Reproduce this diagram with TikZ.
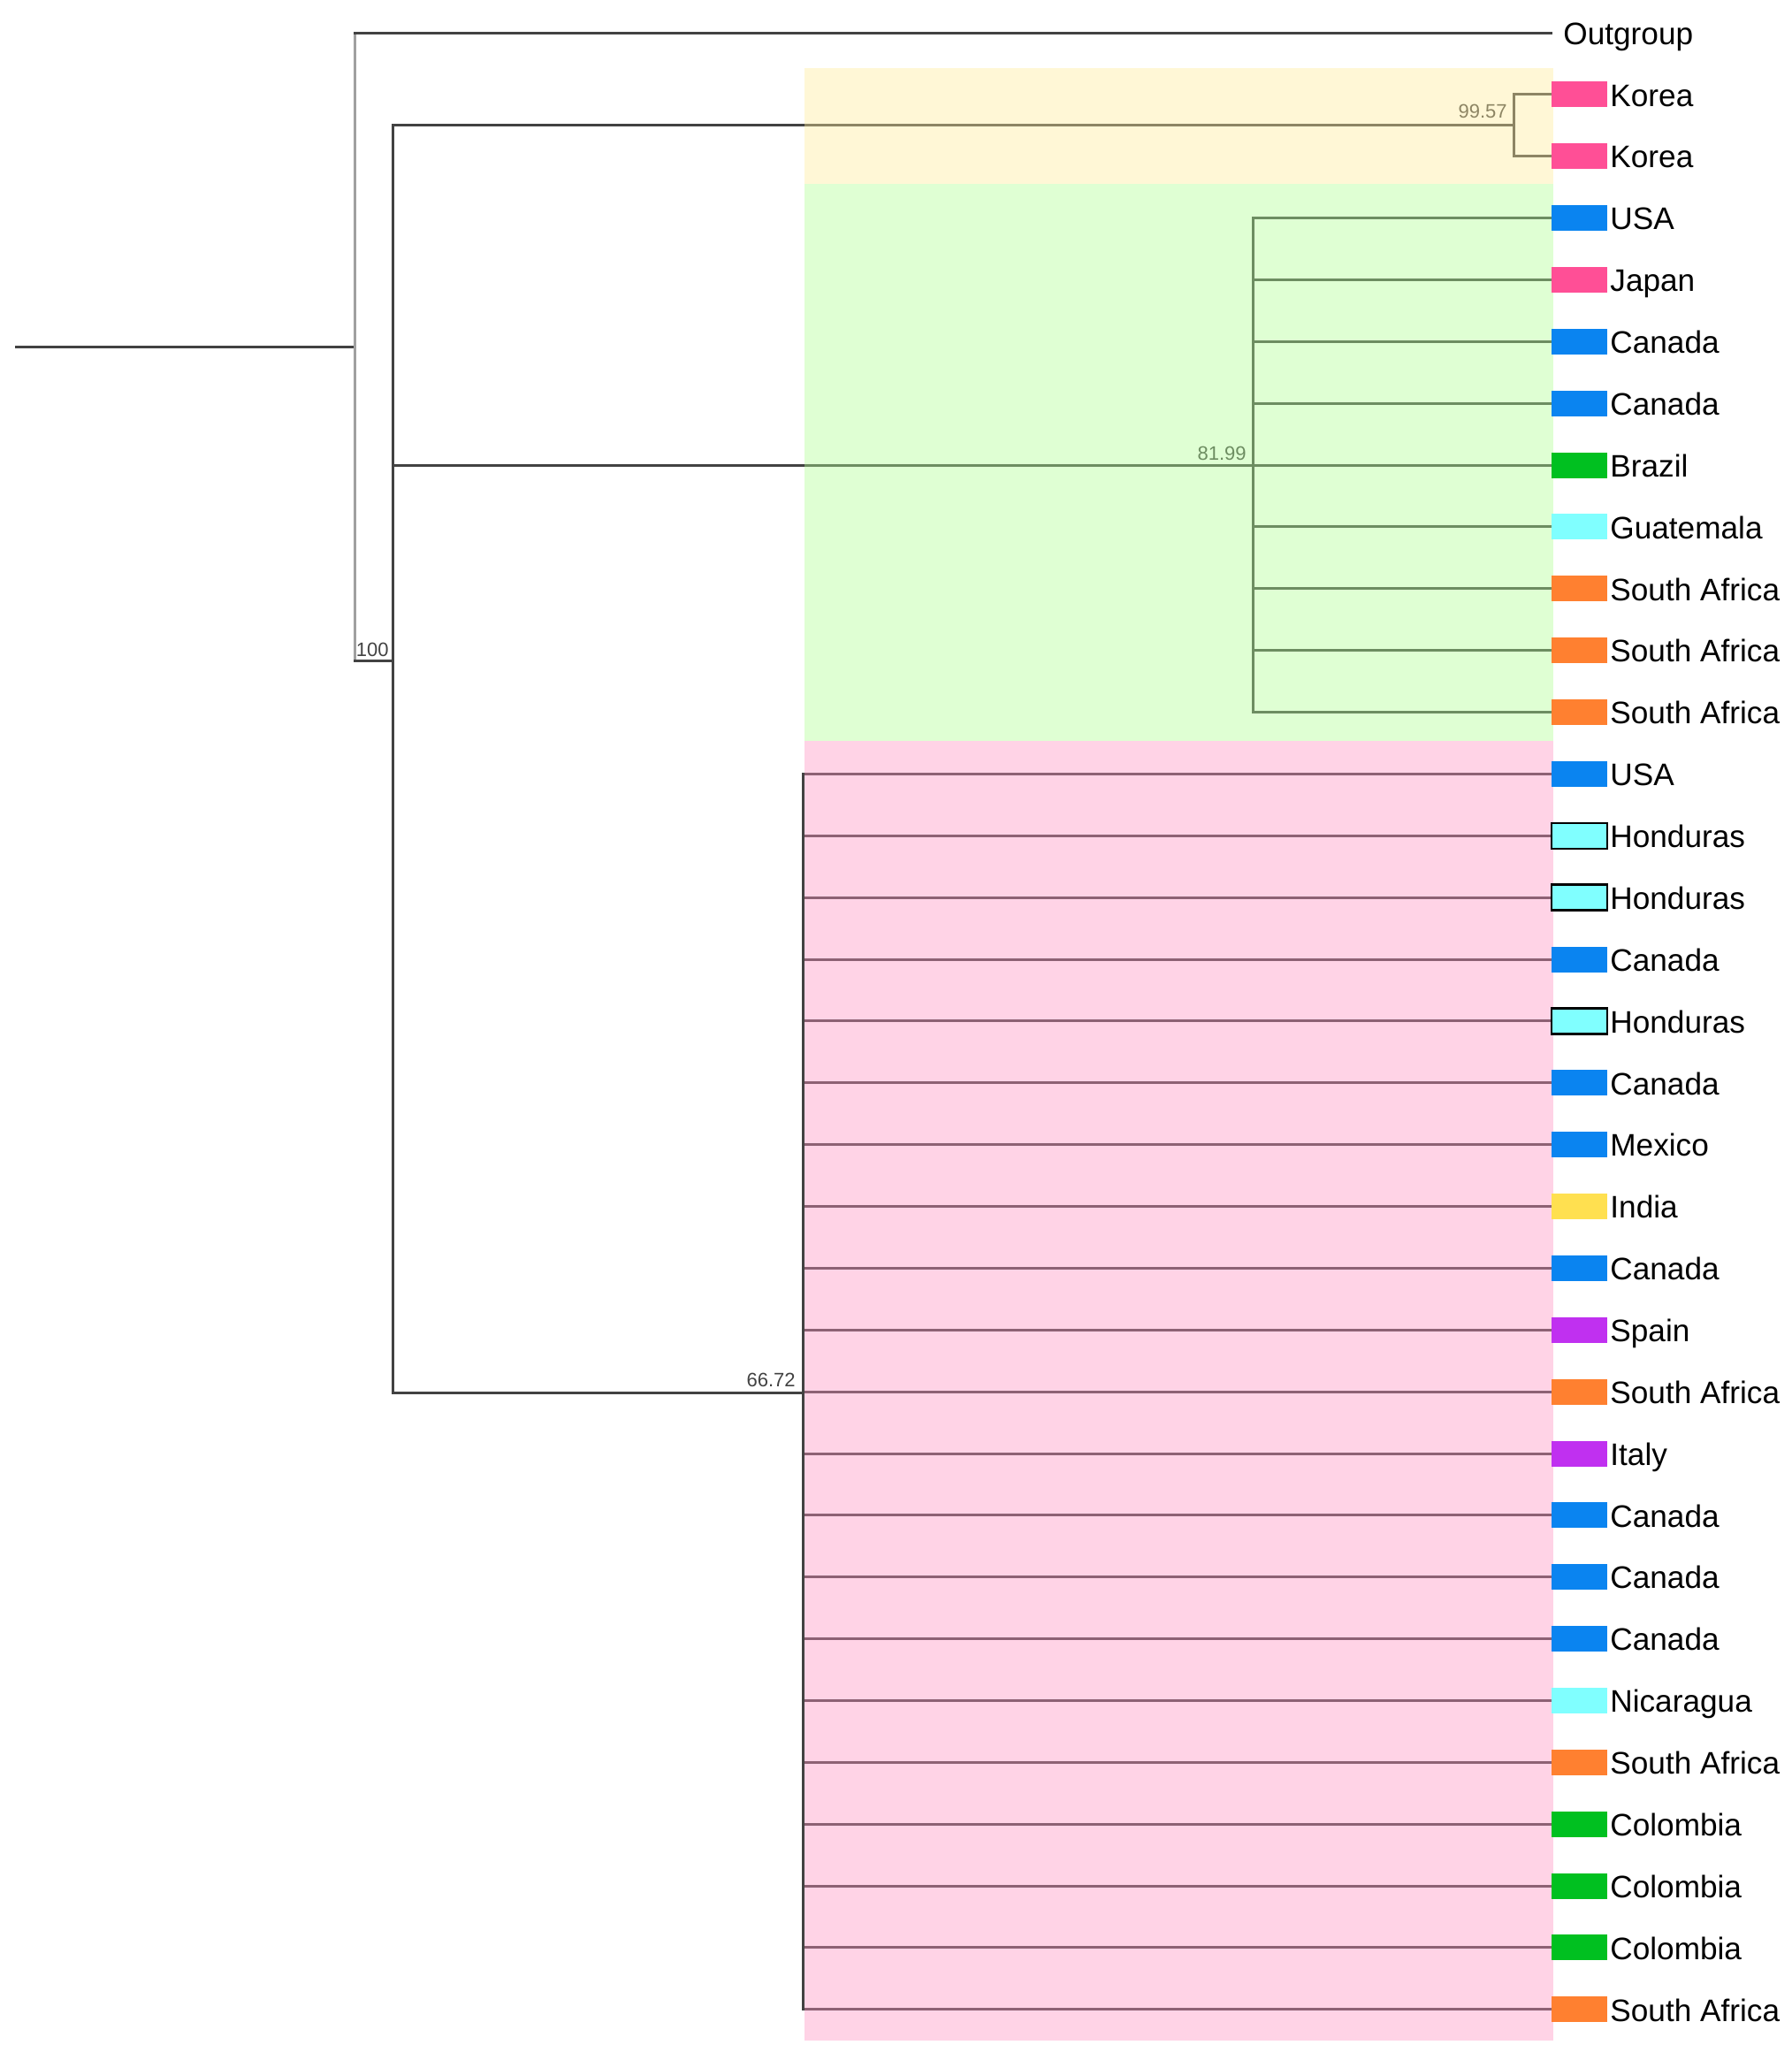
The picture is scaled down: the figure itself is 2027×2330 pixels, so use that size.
\documentclass[tikz,border=0pt]{standalone}
\usepackage{fontspec}
\setmainfont{Liberation Sans}
\definecolor{lineC}{HTML}{424242}
\definecolor{rootV}{HTML}{A0A0A0}
\definecolor{hlYellow}{RGB}{255,235,152}
\definecolor{hlGreen}{RGB}{175,255,145}
\definecolor{hlPink}{RGB}{255,145,192}
\definecolor{cPink}{HTML}{FF4F96}
\definecolor{cBlue}{HTML}{0A84F0}
\definecolor{cGreen}{HTML}{00C020}
\definecolor{cCyan}{HTML}{80FFFF}
\definecolor{cOrange}{HTML}{FF8030}
\definecolor{cYellow}{HTML}{FFE050}
\definecolor{cPurple}{HTML}{C030F0}
\tikzset{
  branch/.style={line width=1.5pt, draw=lineC, line cap=rect},
  support/.style={anchor=base east, inner sep=0pt, text=lineC, font=\fontsize{11pt}{12pt}\selectfont},
  tiplabel/.style={anchor=base west, inner sep=0pt, text=black, font=\fontsize{17.6pt}{20pt}\selectfont},
  tipbox/.style={anchor=west, rectangle, inner sep=0pt, minimum width=31.5pt, minimum height=14.5pt, line width=1.2pt},
  highlight/.style={fill opacity=0.4, draw=none}
}
\begin{document}
\begin{tikzpicture}[x=0.5pt,y=-0.5pt]
\useasboundingbox (0,0) rectangle (2027,2330);
% tip coordinates
\foreach \i in {0,...,32}{
  \pgfmathsetmacro\yy{37+69.87*\i}
  \coordinate (t\i) at (1754,\yy);
}
% internal nodes
\coordinate (start) at (18,392);
\coordinate (root) at (401,392);
\coordinate (n100) at (444,747);
\coordinate (nK) at (1712,141.5);
\coordinate (nG) at (1417,526);
\coordinate (nP) at (908,1575);
% backbone
\draw[branch] (start) -- (root);
\draw[branch, draw=rootV] (root |- t0) -- (root |- n100);
\draw[branch] (root |- t0) -- (t0);
\draw[branch] (root |- n100) -- (n100);
\draw[branch] (n100 |- nK) -- (n100 |- nP);
\draw[branch] (n100 |- nK) -- (nK);
\draw[branch] (n100 |- nG) -- (nG);
\draw[branch] (n100 |- nP) -- (nP);
% Korea clade
\draw[branch] (nK |- t1) -- (nK |- t2);
\foreach \i in {1,2}{ \draw[branch] (nK |- t\i) -- (t\i); }
% green clade
\draw[branch] (nG |- t3) -- (nG |- t11);
\foreach \i in {3,...,11}{ \draw[branch] (nG |- t\i) -- (t\i); }
% pink clade
\draw[branch] (nP |- t12) -- (nP |- t32);
\foreach \i in {12,...,32}{ \draw[branch] (nP |- t\i) -- (t\i); }
% support values
\node[support] (s100) at (440,742) {100};
\node[support] (s9957) at (1705,133) {99.57};
\node[support] (s8199) at (1410,520) {81.99};
\node[support] (s6672) at (900,1568) {66.72};
% clade highlights
\fill[hlYellow, highlight] (910,77) rectangle (1757,208);
\fill[hlGreen, highlight] (910,208) rectangle (1757,838);
\fill[hlPink, highlight] (910,838) rectangle (1757,2308);
% tip labels
\node[tiplabel] (lab0) at ([xshift=7pt,yshift=-6.5pt]t0) {Outgroup};
\foreach \i/\name/\col/\bd in {
  1/Korea/cPink/none, 2/Korea/cPink/none, 3/USA/cBlue/none, 4/Japan/cPink/none,
  5/Canada/cBlue/none, 6/Canada/cBlue/none, 7/Brazil/cGreen/none, 8/Guatemala/cCyan/none,
  9/South Africa/cOrange/none, 10/South Africa/cOrange/none, 11/South Africa/cOrange/none,
  12/USA/cBlue/none, 13/Honduras/cCyan/black, 14/Honduras/cCyan/black, 15/Canada/cBlue/none,
  16/Honduras/cCyan/black, 17/Canada/cBlue/none, 18/Mexico/cBlue/none, 19/India/cYellow/none,
  20/Canada/cBlue/none, 21/Spain/cPurple/none, 22/South Africa/cOrange/none, 23/Italy/cPurple/none,
  24/Canada/cBlue/none, 25/Canada/cBlue/none, 26/Canada/cBlue/none, 27/Nicaragua/cCyan/none,
  28/South Africa/cOrange/none, 29/Colombia/cGreen/none, 30/Colombia/cGreen/none,
  31/Colombia/cGreen/none, 32/South Africa/cOrange/none}{
  \node[tipbox, fill=\col, draw=\bd] (box\i) at (t\i) {};
  \node[tiplabel] (lab\i) at ([xshift=0.8pt,yshift=-6.6pt]box\i.east) {\name};
}
\end{tikzpicture}
\end{document}
